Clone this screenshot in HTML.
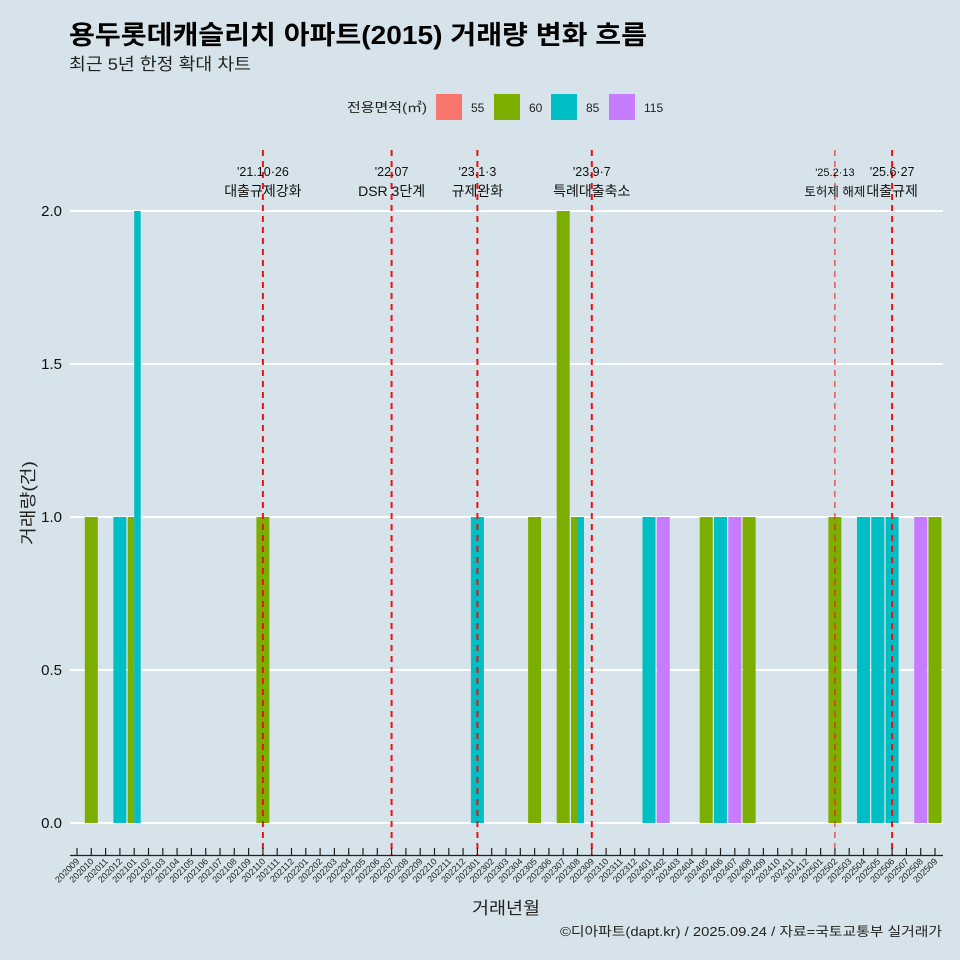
<!DOCTYPE html>
<html><head><meta charset="utf-8">
<style>
html,body{margin:0;padding:0;background:#d6e3ea;}
svg{display:block;font-family:"Liberation Sans","Noto Sans CJK KR",sans-serif;}
</style></head>
<body>
<svg id="chart" width="960" height="960" viewBox="0 0 960 960">
<rect x="0" y="0" width="960" height="960" fill="#d6e3ea"/>
<text x="69" y="44" font-size="26" font-weight="bold" fill="#000" textLength="578" lengthAdjust="spacingAndGlyphs">용두롯데캐슬리치 아파트(2015) 거래량 변화 흐름</text>
<text x="69" y="70" font-size="17" fill="#222" textLength="182" lengthAdjust="spacingAndGlyphs">최근 5년 한정 확대 차트</text>
<g id="legend">
<text x="347" y="112" font-size="13" fill="#222" textLength="80" lengthAdjust="spacingAndGlyphs">전용면적(㎡)</text>
</g>
<g id="grid"></g>
<g id="bars"></g>
<g id="events"></g>
<g id="axes"></g>
<text x="506" y="914" font-size="17" text-anchor="middle" fill="#222" textLength="68" lengthAdjust="spacingAndGlyphs">거래년월</text>
<text transform="translate(34,503) rotate(-90)" font-size="17" text-anchor="middle" fill="#222" textLength="84" lengthAdjust="spacingAndGlyphs">거래량(건)</text>
<text x="942" y="936" font-size="13" text-anchor="end" fill="#222" textLength="382" lengthAdjust="spacingAndGlyphs">©디아파트(dapt.kr) / 2025.09.24 / 자료=국토교통부 실거래가</text>
</svg>
<script>
const months = [];
for (let y = 2020, m = 9; y * 100 + m <= 202509; m++) { if (m > 12) { m = 1; y++; } months.push(String(y * 100 + m)); }
const areas = ["55","60","85","115"];
const areaColors = ["#f8766d","#7cae00","#00bfc4","#c77cff"];
const barMonths = ["202010","202012","202101","202101","202110","202301","202305","202307","202308","202308","202401","202402","202405","202406","202407","202408","202502","202504","202505","202506","202508","202509"];
const barAreas  = ["60","85","60","85","60","85","60","60","60","85","85","115","60","85","115","60","60","85","85","85","115","60"];
const barValues = [1,1,1,2,1,1,1,2,1,1,1,1,1,1,1,1,1,1,1,1,1,1];
const yTicks = [0,0.5,1,1.5,2];
const yTickLabels = ["0.0","0.5","1.0","1.5","2.0"];
const eventMonths = ["202110","202207","202301","202309","202502","202506"];
const eventDates = ["'21.10·26","'22.07","'23.1·3","'23.9·7","'25.2·13","'25.6·27"];
const eventLabels = ["대출규제강화","DSR 3단계","규제완화","특례대출축소","토허제 해제","대출규제"];

const NS = "http://www.w3.org/2000/svg";
const X0 = 77, STEP = 14.3, Y0 = 823, YS = 306, BW = 13;
const xScale = m => X0 + months.indexOf(m) * STEP;
const yScale = v => Y0 - v * YS;
function mk(tag, attrs, parent) { const e = document.createElementNS(NS, tag); for (const k in attrs) e.setAttribute(k, attrs[k]); parent.appendChild(e); return e; }

const lg = document.getElementById('legend');
const lgX = [436,494,551,609];
areas.forEach((a, i) => {
  const r = mk('rect', {x: lgX[i], y: 94, width: 26, height: 26, fill: areaColors[i]}, lg);
  
  
  const t = mk('text', {x: lgX[i] + 35, y: 112, 'font-size': 12, fill: '#222'}, lg);
  t.textContent = a;
  
  
});

const gg = document.getElementById('grid');
yTicks.forEach((v, i) => {
  const l = mk('line', {x1: 70, x2: 943, y1: yScale(v), y2: yScale(v), stroke: '#fff', 'stroke-width': 2}, gg);
  
  
  const t = mk('text', {x: 62, y: yScale(v) + 5, 'font-size': 15, 'text-anchor': 'end', fill: '#111'}, gg);
  t.textContent = yTickLabels[i];
  
  
});

const bg = document.getElementById('bars');
barMonths.forEach((m, i) => {
  const group = barMonths.map((mm, j) => mm === m ? j : -1).filter(j => j >= 0);
  const n = group.length, k = group.indexOf(i), w = BW / n;
  const x = xScale(m) - BW / 2 + k * w;
  const r = mk('rect', {x: x, y: yScale(barValues[i]), width: w, height: barValues[i] * YS, fill: areaColors[areas.indexOf(barAreas[i])]}, bg);
  
  
});

const eg = document.getElementById('events');
eventMonths.forEach((m, i) => {
  const x = xScale(m);
  const thin = m === "202502";
  const l = mk('line', {x1: x, x2: x, y1: 150, y2: 855, stroke: '#ee1111', 'stroke-width': thin ? 1 : 2, 'stroke-dasharray': '6,5'}, eg);
  
  
  const fs = thin ? 11 : 12.5;
  const t1 = mk('text', {x: x, y: 176, 'font-size': fs, 'text-anchor': 'middle', fill: '#111'}, eg);
  t1.textContent = eventDates[i];
  
  
  const t2 = mk('text', {x: x, y: 196, 'font-size': thin ? 12.5 : 14, 'text-anchor': 'middle', fill: '#111'}, eg);
  t2.textContent = eventLabels[i];
  
  
});

const ag = document.getElementById('axes');
const ax = mk('line', {x1: 70, x2: 943, y1: 855.5, y2: 855.5, stroke: '#222', 'stroke-width': 1.2}, ag);


months.forEach(m => {
  const x = xScale(m);
  const tk = mk('line', {x1: x, x2: x, y1: 848, y2: 855, stroke: '#222', 'stroke-width': 1.2}, ag);
  
  
  const t = mk('text', {x: x + 3, y: 862, 'font-size': 9, 'text-anchor': 'end', fill: '#222', transform: `rotate(-45 ${x + 3} 862)`}, ag);
  t.textContent = m;
  
  
});
</script>
</body></html>
